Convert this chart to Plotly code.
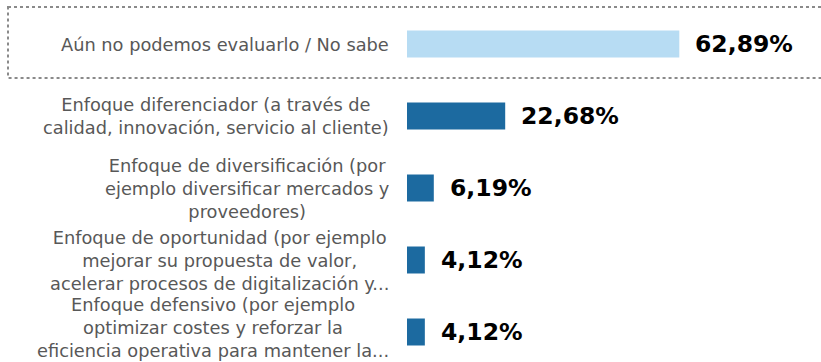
import plotly.graph_objects as go

categories = [
    "Aún no podemos evaluarlo / No sabe",
    "Enfoque diferenciador (a través de<br>calidad, innovación, servicio al cliente)",
    "Enfoque de diversificación (por<br>ejemplo diversificar mercados y<br>proveedores)",
    "Enfoque de oportunidad (por ejemplo<br>mejorar su propuesta de valor,<br>acelerar procesos de digitalización y...",
    "Enfoque defensivo (por ejemplo<br>optimizar costes y reforzar la<br>eficiencia operativa para mantener la...",
]
values = [62.89, 22.68, 6.19, 4.12, 4.12]
bar_colors = ["#B7DCF3", "#1C6AA0", "#1C6AA0", "#1C6AA0", "#1C6AA0"]

W, H = 821, 362
LEFT = 407
ROW = 72          # pixel spacing between rows
FIRST = 44        # pixel centre of the first row
PX_PER_PCT = 4.33

positions = list(range(len(categories)))
x_max = (W - LEFT) / PX_PER_PCT
y_top = -FIRST / ROW
y_bot = (H - FIRST) / ROW

fig = go.Figure(
    go.Bar(
        x=values,
        y=positions,
        orientation="h",
        width=0.375,
        marker=dict(color=bar_colors, line=dict(width=0)),
        hoverinfo="skip",
    )
)

label_font = dict(family="DejaVu Sans, sans-serif", size=17.8, color="#585858")
value_font = dict(family="DejaVu Sans, sans-serif", size=23.5, color="#000000", weight=700)

annotations = []
for pos, cat, val in zip(positions, categories, values):
    # keep the bottom label's last line inside the canvas
    lift = 5 if pos == positions[-1] else 0
    annotations.append(dict(
        x=0, y=pos, xref="x", yref="y", text=cat, showarrow=False,
        xanchor="right", yanchor="middle", align="center", xshift=-16,
        yshift=lift, font=label_font,
    ))
    annotations.append(dict(
        x=val, y=pos, xref="x", yref="y",
        text=f"{val:.2f}%".replace(".", ","), showarrow=False,
        xanchor="left", yanchor="middle", xshift=14,
        font=value_font,
    ))

# dotted frame around the highlighted first row
x0_paper = (8 - LEFT) / (W - LEFT)
fig.add_shape(
    type="rect", xref="paper", yref="y",
    x0=x0_paper, x1=1.02, y0=(7 - FIRST) / ROW, y1=(78 - FIRST) / ROW,
    line=dict(color="#8A8A8A", width=2, dash="dot"),
    layer="below",
)

fig.update_layout(
    width=W, height=H,
    margin=dict(l=LEFT, r=0, t=0, b=0),
    paper_bgcolor="white", plot_bgcolor="white",
    showlegend=False,
    annotations=annotations,
    xaxis=dict(range=[0, x_max], visible=False, fixedrange=True),
    yaxis=dict(range=[y_bot, y_top], visible=False, fixedrange=True),
)

fig.write_html("out.html")
